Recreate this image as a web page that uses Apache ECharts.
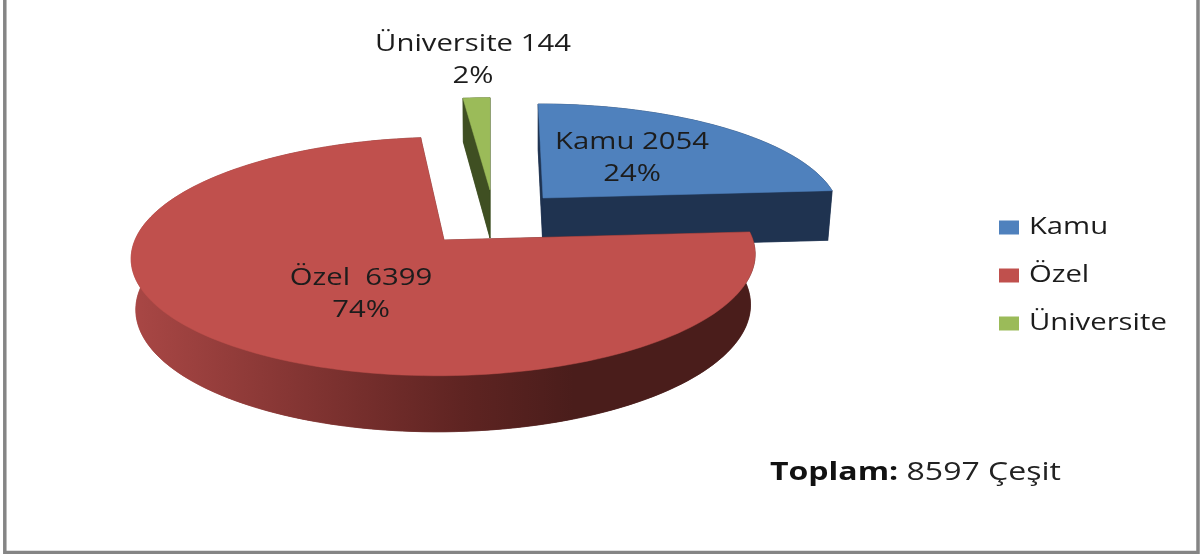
<!DOCTYPE html>
<html><head><meta charset="utf-8">
<style>html,body{margin:0;padding:0;background:#fff}#c{width:1203px;height:554px}</style>
<script src="https://cdn.jsdelivr.net/npm/echarts@6/dist/echarts.min.js"></script>
</head><body><div id="c"></div>
<script>
const categories = ['Kamu', 'Özel', 'Üniversite'];
const values = [2054, 6399, 144];
const labelNames = ['Kamu', 'Özel ', 'Üniversite'];

const total = values.reduce((a, b) => a + b, 0);
const FONT = '"Open Sans", sans-serif';
const TEXT = '#1c1c1c';
const STRETCH = 1.22;
const colors = ['#4f81bd', '#c0504d', '#9bbb59'];
const wallGrad = {
  type: 'linear', x: 132, y: 0, x2: 754, y2: 0, global: true,
  colorStops: [
    { offset: 0, color: '#a94745' }, { offset: 0.28, color: '#823432' },
    { offset: 0.53, color: '#5f2422' }, { offset: 0.71, color: '#4a1d1b' },
    { offset: 1, color: '#4a1d1b' }
  ]
};
const walls = ['#1f3350', wallGrad, '#3f4f22'];
// Projection of each exploded slice: apex, radii, perspective, skew, extrusion.
const geom = [
  { cx: 543, cy: 198, R: 293, S: 107, k: 0.138, sk: 5.5, dy: 50, lx: 632, ly: 158 },
  { cx: 444, cy: 240, R: 309, S: 117, k: 0.138, sk: -6, dy: 50, lx: 361, ly: 294 },
  { cx: 490, cy: 190, R: 293, S: 105, k: 0.138, sk: 0, dy: 48, lx: 473, ly: 60 }
];

function project(g, theta, low) {
  const u = Math.sin(theta), v = -Math.cos(theta), w = 1 / (1 - g.k * v);
  const rs = low ? 0.985 : 1, ss = low ? 1.045 : 1, d = low ? g.dy : 0;
  return [g.cx + (g.R * rs * u + g.sk * v) * w, g.cy + d + g.S * ss * v * w];
}
function apex(g, low) { return [g.cx, g.cy + (low ? g.dy : 0)]; }

function makeRender(i) {
  return function (params, api) {
    const val = api.value(0);
    let before = 0;
    for (let j = 0; j < i; j++) before += values[j];
    const a0 = before / total * Math.PI * 2;
    const a1 = a0 + val / total * Math.PI * 2;
    const g = geom[i];
    const top = [], low = [];
    const n = Math.max(4, Math.ceil((a1 - a0) / 0.03));
    for (let s = 0; s <= n; s++) {
      const t = a0 + (a1 - a0) * s / n;
      top.push(project(g, t, false));
      low.push(project(g, t, true));
    }
    const wallStyle = { fill: walls[i], stroke: walls[i], lineWidth: 0.5 };
    const children = [];
    // Extruded underside, rim band and the two cut faces.
    children.push({ type: 'polygon', shape: { points: [apex(g, true)].concat(low) }, style: wallStyle });
    children.push({ type: 'polygon', shape: { points: top.concat(low.slice().reverse()) }, style: wallStyle });
    children.push({ type: 'polygon', shape: { points: [apex(g, false), top[0], low[0], apex(g, true)] }, style: wallStyle });
    children.push({ type: 'polygon', shape: { points: [apex(g, false), top[n], low[n], apex(g, true)] }, style: wallStyle });
    children.push({ type: 'polygon', shape: { points: [apex(g, false)].concat(top) },
      style: { fill: colors[i], stroke: colors[i], lineWidth: 0.5 } });
    children.push({ type: 'text', z2: 10, x: g.lx, y: g.ly, scaleX: STRETCH, style: {
      x: 0, y: 0, align: 'center', verticalAlign: 'middle', lineHeight: 32,
      text: labelNames[i] + ' ' + val + '\n' + Math.round(val / total * 100) + '%',
      fill: TEXT, font: '24px ' + FONT } });
    return { type: 'group', children };
  };
}

const drawOrder = [0, 2, 1];
const chart = echarts.init(document.getElementById('c'), null, { renderer: 'canvas' });
chart.setOption({
  animation: false,
  backgroundColor: '#fff',
  legend: {
    data: categories, orient: 'vertical', left: 999, top: 211, padding: 0, itemGap: 15,
    itemWidth: 20, itemHeight: 14, icon: 'rect', selectedMode: false,
    textStyle: { fontFamily: FONT, fontSize: 24, color: TEXT, padding: [0, 0, 0, 4], lineHeight: 33 }
  },
  graphic: [
    { type: 'rect', z: -1, silent: true, shape: { x: 4.8, y: -10, width: 1193.2, height: 562.5 },
      style: { fill: 'none', stroke: '#858585', lineWidth: 3.5 } },
    { type: 'text', silent: true, x: 770, y: 473, scaleX: 1.28, style: {
        x: 0, y: 0, align: 'left', verticalAlign: 'middle',
        text: '{b|Toplam:} ' + total + ' Çeşit', fill: '#222', font: '25px ' + FONT,
        rich: { b: { fontFamily: FONT, fontSize: 25, fontWeight: 'bold', fill: '#111', color: '#111' } } } }
  ],
  series: drawOrder.map(i => ({
    type: 'custom', name: categories[i], coordinateSystem: 'none',
    itemStyle: { color: colors[i] },
    renderItem: makeRender(i), data: [[values[i]]], silent: true
  }))
});
// The reference's text is horizontally stretched: widen the legend's own labels to match.
const zr = chart.getZr();
const seen = new Set();
zr.storage.getDisplayList(true).forEach(el => {
  const host = el.parent && el.parent.style && el.parent.style.text !== undefined ? el.parent : el;
  const text = host.style && host.style.text;
  if (categories.indexOf(text) >= 0 && !seen.has(host)) {
    seen.add(host);
    const r = host.getBoundingRect();
    host.originX = r.x;
    host.scaleX = STRETCH;
    host.markRedraw();
  }
});
zr.refreshImmediately();
</script></body></html>
